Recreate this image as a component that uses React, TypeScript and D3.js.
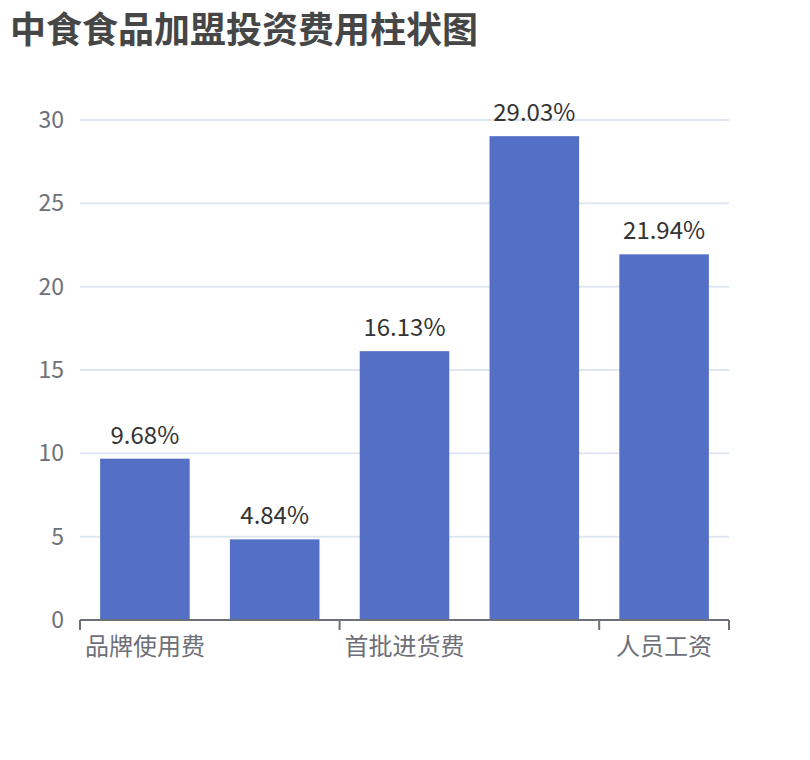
import React from "react";
import * as d3 from "d3";

const title = "中食食品加盟投资费用柱状图";
const categories = ["品牌使用费", "装修费用", "首批进货费", "店铺租金", "人员工资"];
const values = [9.68, 4.84, 16.13, 29.03, 21.94];
const labels = ["9.68%", "4.84%", "16.13%", "29.03%", "21.94%"];
const yTicks = [0, 5, 10, 15, 20, 25, 30];
const shownLabelIdx = [0, 2, 4];
const tickBoundaryIdx = [0, 2, 4, 5];

const W = 810;
const H = 760;
const left = 80;
const right = 729;
const top = 120;
const bottom = 620;
const font = "'Noto Sans CJK SC', 'Noto Sans', sans-serif";

export default function App() {
  const x = d3.scaleBand<string>().domain(categories).range([left, right]).padding(0);
  const y = d3.scaleLinear().domain([0, 30]).range([bottom, top]);
  const bw = x.bandwidth();
  const barW = bw * 0.69;
  return (
    <svg width={W} height={H} style={{ position: "absolute", left: 0, top: 0 }}>
      <rect width={W} height={H} fill="#fff" />
      <text x={10} y={43} fontFamily={font} fontSize={36} fontWeight="bold" fill="#464646">
        {title}
      </text>
      {yTicks.map((t) => (
        <g key={t}>
          {t !== 0 && (
            <line x1={left} x2={right} y1={y(t)} y2={y(t)} stroke="#e0e6f1" strokeWidth={2} />
          )}
          <text x={left - 16} y={y(t) + 8} textAnchor="end" fontFamily={font} fontSize={23} fill="#6e7079">
            {t}
          </text>
        </g>
      ))}
      {categories.map((c, i) => {
        const cx = (x(c) as number) + bw / 2;
        return (
          <g key={c}>
            <rect x={cx - barW / 2} y={y(values[i])} width={barW} height={bottom - y(values[i])} fill="#5470c6" />
            <text x={cx} y={y(values[i]) - 15} textAnchor="middle" fontFamily={font} fontSize={24} fill="#333">
              {labels[i]}
            </text>
          </g>
        );
      })}
      <line x1={left} x2={right} y1={bottom} y2={bottom} stroke="#6e7079" strokeWidth={2} />
      {tickBoundaryIdx.map((k) => {
        const tx = left + k * bw;
        return <line key={k} x1={tx} x2={tx} y1={bottom} y2={bottom + 10} stroke="#6e7079" strokeWidth={2} />;
      })}
      {shownLabelIdx.map((i) => {
        const c = categories[i];
        return (
          <text key={c} x={(x(c) as number) + bw / 2} y={655} textAnchor="middle" fontFamily={font} fontSize={24} fill="#6e7079">
            {c}
          </text>
        );
      })}
    </svg>
  );
}
